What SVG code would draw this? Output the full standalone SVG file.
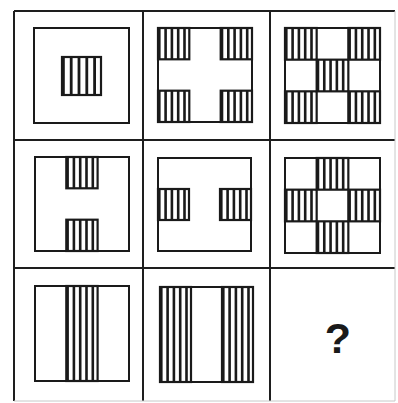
<svg xmlns="http://www.w3.org/2000/svg" width="398" height="403" viewBox="0 0 398 403">
<defs>
<style>
.grid{stroke:#1e1e1e;stroke-width:2;fill:none}
.faint{stroke:#c8c8c8;stroke-width:1;fill:none}
.sq{stroke:#1a1a1a;stroke-width:2;fill:#fff}
.box{stroke:#1a1a1a;stroke-width:2.2;fill:none}
.bar{stroke:#1a1a1a;stroke-dasharray:2.6 3.7;fill:none}
.bar5{stroke:#1a1a1a;stroke-dasharray:2.8 5;fill:none}
.q{font-family:"Liberation Sans",Arial,sans-serif;font-weight:bold;font-size:43px;fill:#1a1a1a}
</style>
</defs>
<rect width="398" height="403" fill="#fff"/>
<g id="grid">
<line class="grid" x1="14" y1="11" x2="395" y2="11"/>
<line class="grid" x1="14" y1="140" x2="395" y2="140"/>
<line class="grid" x1="14" y1="268" x2="395" y2="268"/>
<line class="grid" x1="14" y1="11" x2="14" y2="401"/>
<line class="grid" x1="143" y1="11" x2="143" y2="401"/>
<line class="grid" x1="270" y1="11" x2="270" y2="401"/>
<line class="faint" x1="395" y1="11" x2="395" y2="401"/>
<line class="faint" x1="14" y1="401" x2="395" y2="401"/>
</g>
<g id="cell-1-1">
<rect class="sq" x="34" y="28" width="95" height="95"/>
<line class="bar5" x1="62" y1="76" x2="101" y2="76" stroke-width="38"/>
<rect class="box" x="62" y="57" width="39" height="38"/>
</g>
<g id="cell-1-2">
<rect class="sq" x="158" y="28" width="94" height="94"/>
<line class="bar" x1="158" y1="43.65" x2="189.3" y2="43.65" stroke-width="31.3"/>
<line class="bar" x1="220.7" y1="43.65" x2="252" y2="43.65" stroke-width="31.3"/>
<line class="bar" x1="158" y1="106.35" x2="189.3" y2="106.35" stroke-width="31.3"/>
<line class="bar" x1="220.7" y1="106.35" x2="252" y2="106.35" stroke-width="31.3"/>
<rect class="box" x="158" y="28" width="31.3" height="31.3"/>
<rect class="box" x="220.7" y="28" width="31.3" height="31.3"/>
<rect class="box" x="158" y="90.7" width="31.3" height="31.3"/>
<rect class="box" x="220.7" y="90.7" width="31.3" height="31.3"/>
</g>
<g id="cell-1-3">
<rect class="sq" x="285" y="28" width="95" height="95"/>
<line class="bar" x1="285" y1="43.83" x2="316.67" y2="43.83" stroke-width="31.67"/>
<line class="bar" x1="348.33" y1="43.83" x2="380" y2="43.83" stroke-width="31.67"/>
<line class="bar" x1="316.67" y1="75.5" x2="348.33" y2="75.5" stroke-width="31.67"/>
<line class="bar" x1="285" y1="107.17" x2="316.67" y2="107.17" stroke-width="31.67"/>
<line class="bar" x1="348.33" y1="107.17" x2="380" y2="107.17" stroke-width="31.67"/>
<rect class="box" x="285" y="28" width="31.67" height="31.67"/>
<rect class="box" x="348.33" y="28" width="31.67" height="31.67"/>
<rect class="box" x="316.67" y="59.67" width="31.67" height="31.67"/>
<rect class="box" x="285" y="91.33" width="31.67" height="31.67"/>
<rect class="box" x="348.33" y="91.33" width="31.67" height="31.67"/>
</g>
<g id="cell-2-1">
<rect class="sq" x="35" y="157" width="94" height="94"/>
<line class="bar" x1="66.3" y1="172.65" x2="97.6" y2="172.65" stroke-width="31.3"/>
<line class="bar" x1="66.3" y1="235.35" x2="97.6" y2="235.35" stroke-width="31.3"/>
<rect class="box" x="66.3" y="157" width="31.3" height="31.3"/>
<rect class="box" x="66.3" y="219.7" width="31.3" height="31.3"/>
</g>
<g id="cell-2-2">
<rect class="sq" x="158" y="158" width="93" height="93"/>
<line class="bar" x1="158" y1="204.5" x2="189" y2="204.5" stroke-width="31"/>
<line class="bar" x1="220" y1="204.5" x2="251" y2="204.5" stroke-width="31"/>
<rect class="box" x="158" y="189" width="31" height="31"/>
<rect class="box" x="220" y="189" width="31" height="31"/>
</g>
<g id="cell-2-3">
<rect class="sq" x="285" y="158" width="95" height="95"/>
<line class="bar" x1="316.67" y1="173.83" x2="348.33" y2="173.83" stroke-width="31.67"/>
<line class="bar" x1="285" y1="205.5" x2="316.67" y2="205.5" stroke-width="31.67"/>
<line class="bar" x1="348.33" y1="205.5" x2="380" y2="205.5" stroke-width="31.67"/>
<line class="bar" x1="316.67" y1="237.17" x2="348.33" y2="237.17" stroke-width="31.67"/>
<rect class="box" x="316.67" y="158" width="31.67" height="31.67"/>
<rect class="box" x="285" y="189.67" width="31.67" height="31.67"/>
<rect class="box" x="348.33" y="189.67" width="31.67" height="31.67"/>
<rect class="box" x="316.67" y="221.33" width="31.67" height="31.67"/>
</g>
<g id="cell-3-1">
<rect class="sq" x="35" y="286" width="94" height="95"/>
<line class="bar" x1="66.3" y1="333.5" x2="97.6" y2="333.5" stroke-width="95"/>
<rect class="box" x="66.3" y="286" width="31.3" height="95"/>
</g>
<g id="cell-3-2">
<rect class="sq" x="160" y="287" width="93" height="95"/>
<line class="bar" x1="160" y1="334.5" x2="191" y2="334.5" stroke-width="95"/>
<line class="bar" x1="222" y1="334.5" x2="253" y2="334.5" stroke-width="95"/>
<rect class="box" x="160" y="287" width="31" height="95"/>
<rect class="box" x="222" y="287" width="31" height="95"/>
</g>
<g id="cell-3-3">
<text class="q" x="338" y="353" text-anchor="middle">?</text>
</g>
</svg>
